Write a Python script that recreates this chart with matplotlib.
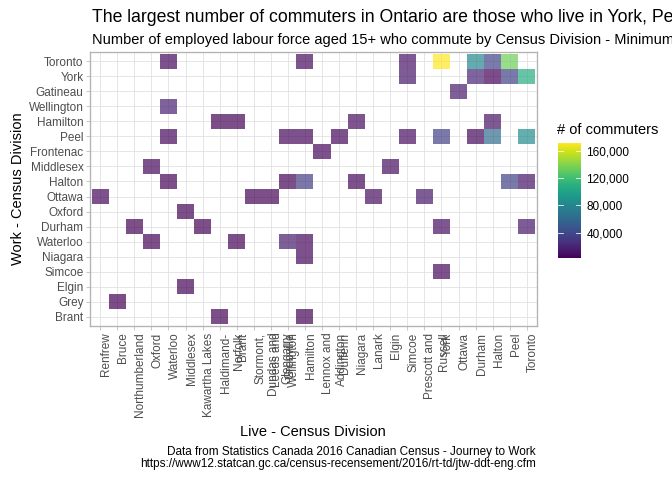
import numpy as np
import matplotlib
matplotlib.use("Agg")
import matplotlib.pyplot as plt
from matplotlib.colors import Normalize
from matplotlib.cm import ScalarMappable
from matplotlib.ticker import FuncFormatter
from matplotlib.transforms import blended_transform_factory

plt.rcParams['font.family'] = ['Liberation Sans', 'DejaVu Sans']

# x axis: where people live (left to right)
live_order = ['Renfrew', 'Bruce', 'Northumberland', 'Oxford', 'Waterloo', 'Middlesex',
              'Kawartha Lakes', 'Haldimand-Norfolk', 'Brant',
              'Stormont, Dundas and Glengarry', 'Leeds and Grenville', 'Wellington',
              'Hamilton', 'Lennox and Addington', 'Dufferin', 'Niagara', 'Lanark',
              'Elgin', 'Simcoe', 'Prescott and Russell', 'York', 'Ottawa', 'Durham',
              'Halton', 'Peel', 'Toronto']
live_labels = ['Renfrew', 'Bruce', 'Northumberland', 'Oxford', 'Waterloo', 'Middlesex',
               'Kawartha Lakes', 'Haldimand-\nNorfolk', 'Brant',
               'Stormont,\nDundas and\nGlengarry', 'Leeds and\nGrenville', 'Wellington',
               'Hamilton', 'Lennox and\nAddington', 'Dufferin', 'Niagara', 'Lanark',
               'Elgin', 'Simcoe', 'Prescott and\nRussell', 'York', 'Ottawa', 'Durham',
               'Halton', 'Peel', 'Toronto']

# y axis: where people work (top to bottom)
work_order = ['Toronto', 'York', 'Gatineau', 'Wellington', 'Hamilton', 'Peel',
              'Frontenac', 'Middlesex', 'Halton', 'Ottawa', 'Oxford', 'Durham',
              'Waterloo', 'Niagara', 'Simcoe', 'Elgin', 'Grey', 'Brant']

# flows (work, live, commuters)
work = ['Toronto', 'Toronto', 'Toronto', 'Toronto', 'Toronto', 'Toronto', 'Toronto',
        'York', 'York', 'York', 'York', 'York',
        'Gatineau', 'Wellington',
        'Hamilton', 'Hamilton', 'Hamilton', 'Hamilton',
        'Peel', 'Peel', 'Peel', 'Peel', 'Peel', 'Peel', 'Peel', 'Peel', 'Peel',
        'Frontenac', 'Middlesex', 'Middlesex',
        'Halton', 'Halton', 'Halton', 'Halton', 'Halton', 'Halton',
        'Ottawa', 'Ottawa', 'Ottawa', 'Ottawa', 'Ottawa',
        'Oxford',
        'Durham', 'Durham', 'Durham', 'Durham',
        'Waterloo', 'Waterloo', 'Waterloo', 'Waterloo',
        'Niagara', 'Simcoe', 'Elgin', 'Grey', 'Brant', 'Brant']
live = ['Waterloo', 'Hamilton', 'Simcoe', 'York', 'Durham', 'Halton', 'Peel',
        'Simcoe', 'Durham', 'Halton', 'Peel', 'Toronto',
        'Ottawa', 'Waterloo',
        'Haldimand-Norfolk', 'Brant', 'Niagara', 'Halton',
        'Waterloo', 'Wellington', 'Hamilton', 'Dufferin', 'Simcoe', 'York', 'Durham',
        'Halton', 'Toronto',
        'Lennox and Addington', 'Oxford', 'Elgin',
        'Waterloo', 'Wellington', 'Hamilton', 'Niagara', 'Peel', 'Toronto',
        'Renfrew', 'Stormont, Dundas and Glengarry', 'Leeds and Grenville', 'Lanark',
        'Prescott and Russell',
        'Middlesex',
        'Northumberland', 'Kawartha Lakes', 'York', 'Toronto',
        'Oxford', 'Brant', 'Wellington', 'Hamilton',
        'Hamilton', 'York', 'Middlesex', 'Bruce', 'Haldimand-Norfolk', 'Hamilton']
commuters = [6000, 8000, 11000, 171000, 80000, 37000, 134000,
             14000, 20000, 4000, 36000, 107000,
             15000, 18000,
             5000, 5000, 9000, 11000,
             6000, 7000, 7000, 7000, 9000, 35000, 6000, 62000, 84000,
             7000, 7000, 9000,
             5000, 5000, 33000, 6000, 36000, 12000,
             7000, 5000, 5000, 10000, 13000,
             5000,
             5000, 5000, 10000, 13000,
             5000, 5000, 16000, 7000,
             7000, 7000, 5000, 3100, 5000, 5000]

grid = np.full((len(work_order), len(live_order)), np.nan)
for w, l, c in zip(work, live, commuters):
    grid[work_order.index(w), live_order.index(l)] = c

W, H = 672, 480
fig = plt.figure(figsize=(7, 5), dpi=96)
ax = fig.add_axes([90 / W, 1 - 326 / H, 447 / W, 274 / H])

norm = Normalize(vmin=min(commuters), vmax=max(commuters))
xe = np.arange(len(live_order) + 1) - 0.5
ye = np.arange(len(work_order) + 1) - 0.5
ax.pcolormesh(xe, ye, np.ma.masked_invalid(grid), cmap='viridis', norm=norm,
              alpha=0.7, edgecolors='none', zorder=2)

ax.set_xlim(-0.6, len(live_order) - 0.4)
ax.set_ylim(len(work_order) - 0.4, -0.6)
ax.set_xticks(range(len(live_order)))
ax.set_yticks(range(len(work_order)))
ax.set_xticklabels(live_labels, rotation=90, ha='left', va='top', multialignment='right')
ax.set_yticklabels(work_order)
ax.grid(True, color='#DEDEDE', lw=0.55, zorder=0)
ax.set_axisbelow(True)
for s in ax.spines.values():
    s.set_color('#B3B3B3')
    s.set_linewidth(1.0)
ax.tick_params(color='#B3B3B3', length=2.75, width=0.55, labelsize=8.8,
               labelcolor='#4D4D4D', pad=2.2)

# titles
fig.text(92 / W, 1 - 22 / H, 'The largest number of commuters in Ontario are those who live in York, Peel and Durham',
         fontsize=13.2, ha='left', va='baseline')
fig.text(92 / W, 1 - 44 / H, 'Number of employed labour force aged 15+ who commute by Census Division - Minimum 3,000 commuters',
         fontsize=11, ha='left', va='baseline')
fig.text(313 / W, 1 - 436 / H, 'Live - Census Division', fontsize=11, ha='center', va='baseline')
fig.text(18 / W, 1 - 189 / H, 'Work - Census Division', fontsize=11, ha='center', va='center',
         rotation=90)
fig.text(536 / W, 1 - 446 / H,
         'Data from Statistics Canada 2016 Canadian Census - Journey to Work\n'
         'https://www12.statcan.gc.ca/census-recensement/2016/rt-td/jtw-ddt-eng.cfm',
         fontsize=8.8, ha='right', va='top', multialignment='right', linespacing=1.05)

# colour bar legend
cax = fig.add_axes([558 / W, 1 - 258 / H, 23 / W, 115 / H])
cb = fig.colorbar(ScalarMappable(norm=norm, cmap='viridis'), cax=cax)
cb.outline.set_visible(False)
cb_ticks = [40000, 80000, 120000, 160000]
cb.set_ticks(cb_ticks)
cb.ax.yaxis.set_major_formatter(FuncFormatter(lambda v, p: f'{v:,.0f}'))
cax.tick_params(length=0, labelsize=8.8, pad=4)
tr = blended_transform_factory(cax.transAxes, cax.transData)
for v in cb_ticks:
    cax.plot([0, 0.2], [v, v], color='white', lw=0.6, transform=tr)
    cax.plot([0.8, 1], [v, v], color='white', lw=0.6, transform=tr)
fig.text(557 / W, 1 - 134 / H, '# of commuters', fontsize=11, ha='left', va='baseline')

fig.savefig('out.png', dpi=96)
